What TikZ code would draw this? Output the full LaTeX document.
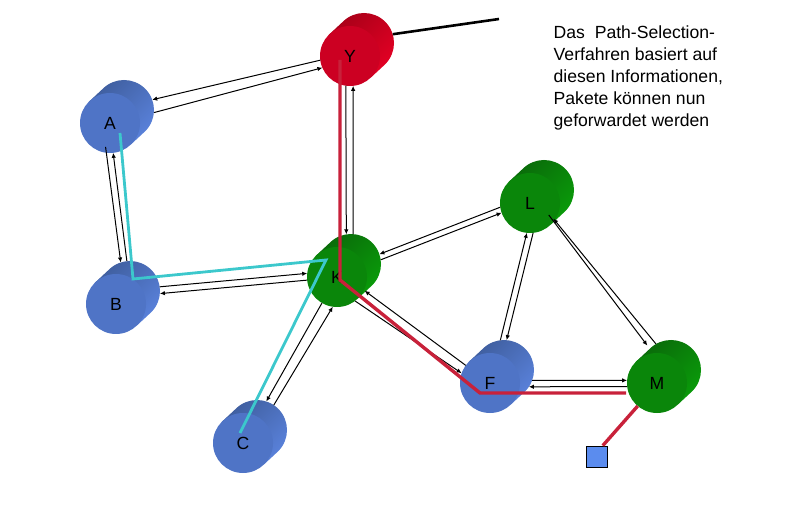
\documentclass[tikz,border=0pt]{standalone}
\usepackage{fontspec}
\setmainfont{Liberation Sans}
\usetikzlibrary{arrows.meta, positioning, calc}

\definecolor{blueface}{HTML}{4F74C6}
\definecolor{blueside}{HTML}{5A82DC}
\definecolor{bluedark}{HTML}{3F5E9E}
\definecolor{greenface}{HTML}{0A860A}
\definecolor{greenside}{HTML}{0A9C0A}
\definecolor{greendark}{HTML}{0A6A0A}
\definecolor{redface}{HTML}{CC0022}
\definecolor{redside}{HTML}{E40024}
\definecolor{reddark}{HTML}{A80018}
\definecolor{routered}{HTML}{C8213A}
\definecolor{routecyan}{HTML}{3CC8CC}
\definecolor{hostblue}{HTML}{5B8CEE}

% name, x, y, colour family
\newcommand{\router}[4]{
  \node[disc] (#1b) at ({#2+14},{#3-13}) {};
  \shade[top color=#4dark, bottom color=#4side, shading angle=45]
    (#1b.135) arc[start angle=135, end angle=-45, radius=30pt]
    -- ++(-14,13) -- ++(-42.4,-42.4) -- cycle;
  \node[disc, fill=#4face] (#1) at (#2,#3) {#1};
}

\begin{document}
\begin{tikzpicture}[
  x=1pt, y=-1pt,
  font=\fontsize{17.6}{21.9}\selectfont,
  disc/.style  = {circle, minimum size=60pt, inner sep=0pt, outer sep=0pt},
  link/.style  = {line width=1pt, -{Latex[length=5pt,width=4.5pt]}},
  hostbox/.style = {draw, line width=0.8pt, fill=hostblue, minimum size=21pt, inner sep=0pt},
  redroute/.style  = {routered, line width=3.4pt, line join=miter},
  cyanroute/.style = {routecyan, line width=2.8pt, line join=miter}
]
  \useasboundingbox (0,0) rectangle (800,510);

  % Routers
  \router{A}{110}{123}{blue}
  \router{B}{116}{304}{blue}
  \router{C}{243}{443}{blue}
  \router{F}{490}{383}{blue}
  \router{K}{337}{277}{green}
  \router{L}{530}{203}{green}
  \router{M}{657}{383}{green}
  \router{Y}{350}{56}{red}

  % Host below M
  \node[hostbox] (host) at (596.5,456.5) {};

  % Uplink at Y
  \coordinate (uplink) at (499,19);
  \draw[line width=2.6pt] (Yb.17) -- (uplink);

  % A <-> Y
  \draw[link] (Y.188) -- (Ab.20);
  \draw[link] (Ab.-5) -- (Y.203);

  % Y <-> K
  \draw[link] (Y.262) -- (Kb.99);
  \draw[link] (Kb.86) -- (Y.-84);

  % A <-> B
  \draw[link, shorten <=-6pt] (A.-97) -- (Bb.108);
  \draw[link] (Bb.96) -- (A.-84);

  % B <-> K
  \draw[link] (Bb.8) -- (K.173);
  \draw[link] (K.186) -- (Bb.-5);

  % C <-> K
  \draw[link] (K.-120) -- (Cb.72);
  \draw[link] (Cb.56) -- (K.-98);

  % K <-> L
  \draw[link] (L.188) -- (Kb.19);
  \draw[link] (Kb.8) -- (L.199);

  % K <-> F
  \draw[link] (F.144) -- (Kb.-63);
  \draw[link] (K.-53) -- (F.161);

  % L <-> F
  \draw[link] (Fb.97) -- (L.-96);
  \draw[link] (L.-84) -- (Fb.85);

  % L <-> M
  \draw[link] (Mb.120) -- (Lb.-72);
  \draw[link, shorten <=-5pt, shorten >=4pt] (Lb.-75) -- (Mb.135);

  % F <-> M
  \draw[link] (Fb.-20) -- (M.175);
  \draw[link] (M.187) -- (Fb.-34);

  % Red route
  \coordinate (redY) at (340,60);
  \coordinate (redK) at (340,280);
  \coordinate (redF) at (480,393);
  \coordinate (redM) at (626,393);
  \draw[redroute] (redY) -- (redK) -- (redF) -- (redM);
  \draw[redroute] (M.-130) -- (host.60);

  % Cyan route
  \coordinate (cyanA) at (120,133);
  \coordinate (cyanB) at (133,279);
  \coordinate (cyanK) at (326,260);
  \coordinate (cyanC) at (240,433);
  \draw[cyanroute] (cyanA) -- (cyanB) -- (cyanK) -- (cyanC);

  % Text
  \node[anchor=north west, inner sep=0pt, align=left] (note) at (553.5,25.5) {
    Das\ \ Path-Selection-\\
    Verfahren basiert auf\\
    diesen Informationen,\\
    Pakete können nun\\
    geforwardet werden
  };
\end{tikzpicture}
\end{document}
